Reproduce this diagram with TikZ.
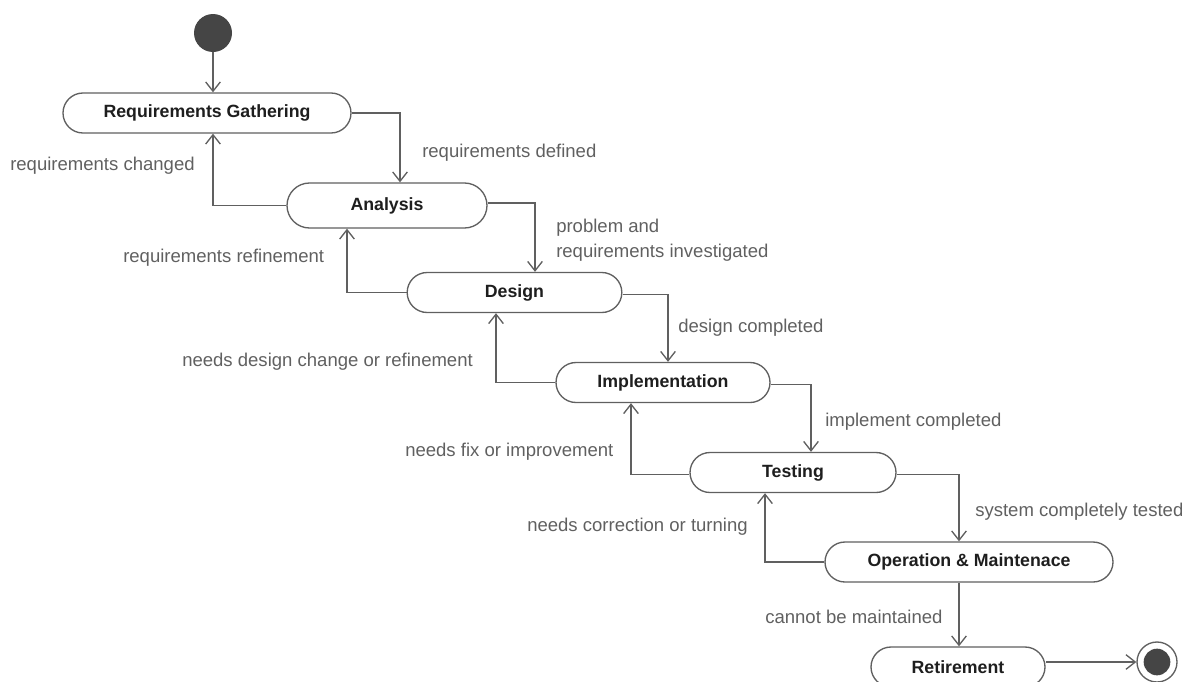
\documentclass[tikz,border=0pt]{standalone}
\usepackage{fontspec}
\setmainfont{Liberation Sans}
\usetikzlibrary{shapes.misc,arrows.meta}
\definecolor{linec}{HTML}{606060}
\definecolor{labc}{HTML}{606060}
\definecolor{statec}{HTML}{1E1E1E}
\definecolor{dotc}{HTML}{454545}
\tikzset{
  x=0.75pt, y=-0.75pt,
  state/.style={rounded rectangle, draw=linec, line width=1pt, fill=white,
    minimum height=30pt, inner sep=0pt, text=statec,
    font=\bfseries\fontsize{13.3}{15}\selectfont},
  lab/.style={anchor=west, inner sep=0pt, text=labc,
    font=\fontsize{13.9}{18.75}\selectfont, align=left},
  arr/.style={draw=linec, line width=1pt, -{Straight Barb[length=7pt,width=11pt,line width=1pt]}},
  ln/.style={draw=linec, line width=1pt}
}
\begin{document}
\begin{tikzpicture}
\useasboundingbox (0,0) rectangle (1182,682);
% start
\node[circle, fill=dotc, minimum size=28.5pt, inner sep=0pt] (start) at (213,33) {};
% states
\node[state, minimum width=216pt] (rg) at (207,113) {Requirements Gathering};
\node[state, minimum width=150pt, minimum height=33.75pt] (an) at (387,205.5) {Analysis};
\node[state, minimum width=161pt] (ds) at (514.5,292.5) {Design};
\node[state, minimum width=160.5pt] (im) at (663,382.5) {Implementation};
\node[state, minimum width=154.5pt] (ts) at (793,472.5) {Testing};
\node[state, minimum width=216pt] (om) at (969,562) {Operation \& Maintenace};
\node[state, minimum width=130.5pt] (rt) at (958,667) {Retirement};
% final
\node[circle, draw=linec, line width=1pt, fill=white, minimum size=30pt, inner sep=0pt] (fin) at (1157,662) {};
\node[circle, fill=dotc, minimum size=20pt, inner sep=0pt] (finin) at (fin.center) {};
% helper coordinates for bends
\coordinate (x213) at (213,0);
\coordinate (x400) at (400,0);
\coordinate (x347) at (347,0);
\coordinate (x535) at (535,0);
\coordinate (x496) at (496,0);
\coordinate (x668) at (668,0);
\coordinate (x631) at (631,0);
\coordinate (x811) at (811,0);
\coordinate (x765) at (765,0);
\coordinate (x959) at (959,0);
% edges
\draw[arr] (start) -- (x213 |- rg.north);
\draw[arr] (rg.east) -| (x400 |- an.north);
\draw[arr] (an.west) -| (x213 |- rg.south);
\draw[arr] ([yshift=2pt]an.east) -| (x535 |- ds.north);
\draw[arr] (ds.west) -| (x347 |- an.south);
\draw[arr] ([yshift=-1.5pt]ds.east) -| (x668 |- im.north);
\draw[arr] (im.west) -| (x496 |- ds.south);
\draw[arr] ([yshift=-1.5pt]im.east) -| (x811 |- ts.north);
\draw[arr] ([yshift=-1.5pt]ts.west) -| (x631 |- im.south);
\draw[arr] ([yshift=-1.5pt]ts.east) -| (x959 |- om.north);
\draw[arr] (om.west) -| (x765 |- ts.south);
\draw[arr] (x959 |- om.south) -- (x959 |- rt.north);
\draw[arr] (rt.east |- fin.west) -- (fin.west);
% labels
\node[lab] (l1) at (10,166) {requirements changed};
\node[lab] (l2) at (422,153) {requirements defined};
\node[lab] (l3) at (556,240.5) {problem and\\requirements investigated};
\node[lab] (l4) at (123,258) {requirements refinement};
\node[lab] (l5) at (678,328) {design completed};
\node[lab] (l6) at (182,362) {needs design change or refinement};
\node[lab] (l7) at (825,422) {implement completed};
\node[lab] (l8) at (405,452) {needs fix or improvement};
\node[lab] (l9) at (975,512) {system completely tested};
\node[lab] (l10) at (527,527) {needs correction or turning};
\node[lab] (l11) at (765,617) {cannot be maintained};
\end{tikzpicture}
\end{document}
